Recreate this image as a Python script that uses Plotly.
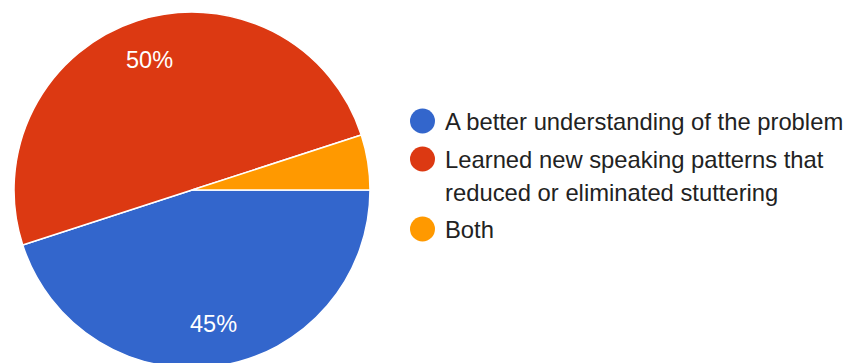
import math
import plotly.graph_objects as go

# ---- data ----
categories = [
    "A better understanding of the problem",
    "Learned new speaking patterns that<br>reduced or eliminated stuttering",
    "Both",
]
values = [45, 50, 5]
colors = ["#3366cc", "#dc3912", "#ff9900"]
show_pct = [True, True, False]

# ---- layout constants (screen pixels) ----
W, H = 851, 363
OFF = 8  # default page body margin
FONT = "Liberation Sans, Arial, sans-serif"
FS_PCT = 23.5
FS_LEG = 23.8
PIE_CX, PIE_CY, PIE_R = 192, 190, 178
LABEL_R = 0.765
LEG_MARKER_X = 422.5
LEG_TEXT_X = 443
LEG_ROWS = [121, 159, 229]
LINE_H = 33

fig = go.Figure()

fig.add_trace(go.Pie(
    labels=categories,
    values=values,
    marker=dict(colors=colors, line=dict(color="white", width=1.5)),
    sort=False,
    direction="clockwise",
    rotation=90,
    textinfo="none",
    showlegend=False,
    hoverinfo="label+percent",
    domain=dict(
        x=[(PIE_CX - OFF - PIE_R) / W, (PIE_CX - OFF + PIE_R) / W],
        y=[(H - (PIE_CY - OFF + PIE_R)) / H, (H - (PIE_CY - OFF - PIE_R)) / H],
    ),
))

# custom legend markers (circles)
fig.add_trace(go.Scatter(
    x=[LEG_MARKER_X] * len(categories),
    y=LEG_ROWS,
    mode="markers",
    marker=dict(size=25, color=colors, line=dict(width=0)),
    hoverinfo="skip",
    showlegend=False,
))

annotations = []
# percentage labels inside slices (clockwise from 3 o'clock)
total = sum(values)
cum = 0
for v, show in zip(values, show_pct):
    mid = (cum + v / 2) / total
    cum += v
    if not show:
        continue
    th = -2 * math.pi * mid
    annotations.append(dict(
        x=PIE_CX + LABEL_R * PIE_R * math.cos(th),
        y=PIE_CY - LABEL_R * PIE_R * math.sin(th),
        xref="x", yref="y",
        text=f"{round(100 * v / total)}%", showarrow=False,
        xanchor="center", yanchor="middle",
        font=dict(size=FS_PCT, family=FONT, color="white"),
    ))

# legend texts
for lab, yrow in zip(categories, LEG_ROWS):
    for k, line in enumerate(lab.split("<br>")):
        annotations.append(dict(
            x=LEG_TEXT_X, y=yrow + k * LINE_H, xref="x", yref="y",
            text=line, showarrow=False, xanchor="left", yanchor="middle",
            align="left",
            font=dict(size=FS_LEG, family=FONT, color="#222222"),
        ))

fig.update_layout(
    width=W, height=H,
    margin=dict(l=0, r=0, t=0, b=0),
    paper_bgcolor="white", plot_bgcolor="white",
    xaxis=dict(range=[OFF, W + OFF], visible=False, fixedrange=True),
    yaxis=dict(range=[H + OFF, OFF], visible=False, fixedrange=True),
    annotations=annotations,
    showlegend=False,
)

fig.write_html("out.html")
